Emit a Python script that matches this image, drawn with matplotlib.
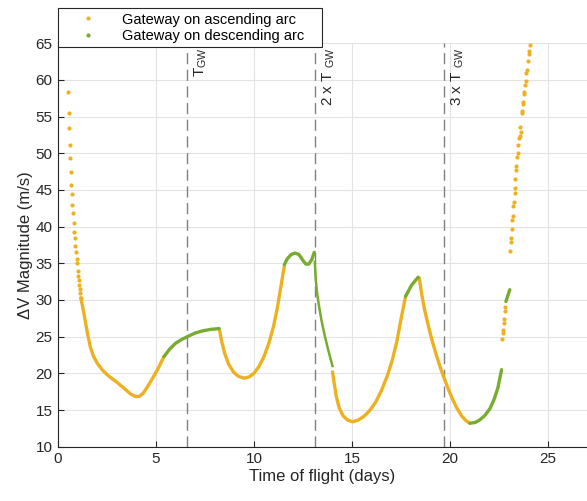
import matplotlib
matplotlib.use('Agg')
import matplotlib.pyplot as plt
from matplotlib.lines import Line2D

plt.rcParams['font.family'] = ['Liberation Sans', 'DejaVu Sans']
plt.rcParams['mathtext.default'] = 'regular'

ORANGE = '#EDB120'
GREEN = '#77AC30'

t_gw = 6.56
gw_lines = [t_gw, 2 * t_gw, 3 * t_gw]
gw_labels = ['T$_{GW}$', '2 x T ${}_{GW}$', '3 x T ${}_{GW}$']

# sparse orange dots at the start
asc0_x = [0.49, 0.54, 0.56, 0.60, 0.61, 0.65, 0.68, 0.70, 0.73, 0.77, 0.80, 0.83,
          0.85, 0.88, 0.92, 0.95, 0.97, 1.00, 1.04, 1.05, 1.09, 1.11, 1.12, 1.16]
asc0_y = [58.3, 55.5, 53.4, 51.1, 49.4, 47.5, 45.7, 44.4, 42.9, 41.8, 40.5, 39.3,
          38.4, 37.3, 36.5, 35.6, 35.0, 34.0, 33.3, 32.7, 32.0, 31.5, 30.9, 30.3]

# dense ascending-arc segments
asc1_x = [1.16, 1.25, 1.38, 1.50, 1.65, 1.80, 2.00, 2.25, 2.60, 3.00, 3.40, 3.70,
          3.95, 4.15, 4.35, 4.55, 4.80, 5.10, 5.41]
asc1_y = [30.3, 29.2, 27.3, 25.5, 23.6, 22.4, 21.4, 20.5, 19.6, 18.8, 17.9, 17.2,
          16.85, 16.85, 17.3, 18.1, 19.2, 20.6, 22.3]
asc2_x = [8.25, 8.35, 8.50, 8.70, 8.95, 9.20, 9.50, 9.75, 10.00, 10.25, 10.50, 10.75,
          11.00, 11.20, 11.40, 11.55]
asc2_y = [25.8, 24.4, 22.8, 21.3, 20.2, 19.6, 19.35, 19.5, 20.0, 20.9, 22.2, 24.0,
          26.4, 29.0, 32.2, 34.6]
asc3_x = [14.01, 14.10, 14.20, 14.35, 14.55, 14.80, 15.05, 15.30, 15.60, 15.90, 16.20,
          16.50, 16.80, 17.05, 17.30, 17.50, 17.74]
asc3_y = [20.2, 18.6, 16.9, 15.3, 14.2, 13.6, 13.4, 13.6, 14.1, 14.9, 16.0,
          17.6, 19.6, 21.7, 24.4, 27.3, 30.5]
asc4_x = [18.44, 18.55, 18.70, 18.90, 19.10, 19.30, 19.50, 19.70, 19.90, 20.10, 20.35,
          20.60, 20.80, 21.02]
asc4_y = [33.0, 31.0, 28.8, 26.5, 24.4, 22.6, 20.9, 19.4, 18.0, 16.7, 15.3,
          14.2, 13.6, 13.2]

# sparse orange dots near the end
asc5_x = [22.64, 22.69, 22.72, 22.74, 22.76, 22.79, 22.81]
asc5_y = [24.7, 25.5, 25.9, 26.9, 27.4, 28.5, 29.1]
asc6_x = [23.06, 23.10, 23.11, 23.15, 23.18, 23.20, 23.23, 23.25, 23.30, 23.32, 23.35, 23.38,
          23.40, 23.45, 23.47, 23.50, 23.55, 23.57, 23.59, 23.61, 23.67, 23.69, 23.72, 23.74,
          23.78, 23.81, 23.84, 23.88, 23.91, 23.95, 24.00, 24.05, 24.06, 24.10]
asc6_y = [36.7, 37.9, 38.5, 39.7, 40.9, 41.5, 42.8, 43.4, 44.6, 45.3, 46.5, 47.7,
          48.3, 49.5, 50.0, 51.2, 52.1, 52.3, 53.6, 52.9, 55.5, 55.8, 56.7, 57.0,
          58.1, 58.4, 59.3, 59.9, 60.9, 61.3, 62.6, 63.5, 63.9, 64.7]

# descending-arc segments
des1_x = [5.41, 5.70, 6.00, 6.30, 6.60, 7.00, 7.40, 7.80, 8.23]
des1_y = [22.3, 23.3, 24.1, 24.6, 25.0, 25.5, 25.8, 26.0, 26.1]
des2_x = [11.55, 11.70, 11.90, 12.10, 12.30, 12.50, 12.65, 12.80, 12.95, 13.08]
des2_y = [34.8, 35.6, 36.2, 36.4, 36.2, 35.4, 34.9, 34.9, 35.5, 36.5]
des3_x = [13.11, 13.15, 13.22, 13.32, 13.45, 13.60, 13.80, 14.01]
des3_y = [35.2, 33.0, 31.0, 29.2, 27.2, 25.3, 23.1, 21.0]
des4_x = [17.74, 18.04, 18.38]
des4_y = [30.5, 32.0, 33.1]
des5_x = [21.02, 21.30, 21.55, 21.80, 22.05, 22.25, 22.45, 22.64]
des5_y = [13.2, 13.3, 13.7, 14.3, 15.2, 16.4, 18.0, 20.5]
des6_x = [22.86, 22.96, 23.06]
des6_y = [29.8, 30.6, 31.4]

fig = plt.figure(figsize=(5.87, 5.01), dpi=100)
ax = fig.add_axes([0.0988, 0.1084, 0.9012, 0.8052])

for xs, ys in [(asc1_x, asc1_y), (asc2_x, asc2_y), (asc3_x, asc3_y), (asc4_x, asc4_y)]:
    ax.plot(xs, ys, color=ORANGE, lw=2.4, solid_capstyle='round',
            solid_joinstyle='round', zorder=3)
for xs, ys in [(asc0_x, asc0_y), (asc5_x, asc5_y), (asc6_x, asc6_y)]:
    ax.plot(xs, ys, '.', color=ORANGE, ms=4, zorder=3)
for xs, ys in [(des1_x, des1_y), (des2_x, des2_y), (des4_x, des4_y),
               (des5_x, des5_y), (des6_x, des6_y)]:
    ax.plot(xs, ys, color=GREEN, lw=2.4, solid_capstyle='round',
            solid_joinstyle='round', zorder=3)
ax.plot(des3_x, des3_y, color=GREEN, lw=1.8, solid_joinstyle='round', zorder=3)

for xv, lab in zip(gw_lines, gw_labels):
    ax.axvline(xv, color='#808080', lw=1, dashes=(8, 4), zorder=2)
    ax.text(xv + 0.3, 64.4, lab, rotation=90, ha='left', va='top',
            fontsize=11, color='#262626')

ax.set_xlim(0, 27)
ax.set_ylim(10, 65)
ax.set_xticks([0, 5, 10, 15, 20, 25])
ax.set_yticks(range(10, 66, 5))
ax.grid(True, color='#e3e3e3', lw=0.8, zorder=0)
ax.set_axisbelow(True)
for s in ['top', 'right']:
    ax.spines[s].set_visible(False)
for s in ['left', 'bottom']:
    ax.spines[s].set_color('#262626')
    ax.spines[s].set_linewidth(0.8)
ax.tick_params(direction='in', length=4, width=0.8, colors='#262626',
               labelsize=11, pad=4)
ax.set_xlabel('Time of flight (days)', fontsize=12, color='#262626', labelpad=2)
ax.set_ylabel('\u0394V Magnitude (m/s)', fontsize=12, color='#262626', labelpad=2)

handles = [Line2D([], [], ls='none', marker='.', ms=4, color=ORANGE),
           Line2D([], [], ls='none', marker='.', ms=4, color=GREEN)]
leg = fig.legend(handles, ['Gateway on ascending arc', 'Gateway on descending arc'],
                 loc='lower left', bbox_to_anchor=(0.0988, 0.906, 0.45, 0.084),
                 mode='expand', borderaxespad=0, fancybox=False, fontsize=10.5,
                 handlelength=3.5, handletextpad=0.6, labelspacing=0.15,
                 borderpad=0.3, framealpha=1)
leg.get_frame().set_edgecolor('#262626')
leg.get_frame().set_linewidth(0.8)

fig.savefig('out.png', dpi=100)
